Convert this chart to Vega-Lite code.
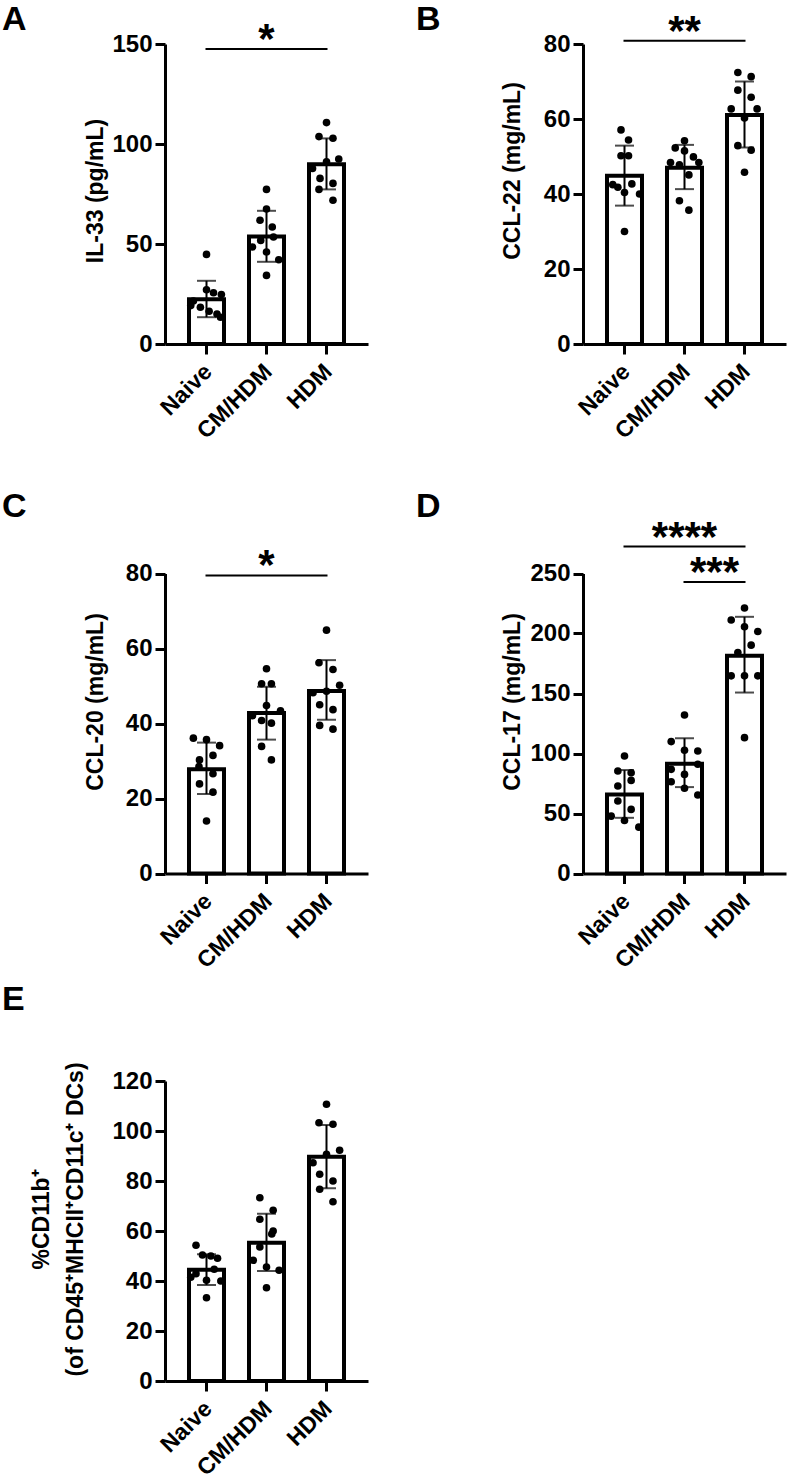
{
  "$schema": "https://vega.github.io/schema/vega-lite/v6.json",
  "padding": {"left": 2, "top": 3, "right": 2, "bottom": 5},
  "bounds": "flush",
  "columns": 2,
  "spacing": {"row": 207, "column": 215},
  "config": {
    "font": "Liberation Sans",
    "view": {"stroke": null},
    "axis": {
      "domainColor": "black", "domainWidth": 3,
      "tickColor": "black", "tickWidth": 3, "tickSize": 10,
      "labelColor": "black", "labelFont": "Liberation Sans", "labelFontSize": 24, "labelFontWeight": "bold", "labelPadding": 3,
      "titleColor": "black", "titleFont": "Liberation Sans", "titleFontSize": 23, "titleFontWeight": "bold",
      "grid": false
    },
    "axisX": {"labelAngle": -45, "labelPadding": 6, "labelOffset": -6, "labelFontSize": 23},
    "axisY": {"labelFlush": false, "titleBaseline": "middle"},
    "title": {"font": "Liberation Sans", "fontSize": 34, "fontWeight": "bold", "color": "black", "anchor": "start", "frame": "group"}
  },
  "datasets": {
    "summary": [
      {"panel": "A", "group": "Naive", "mean": 22.4, "lo": 13.4, "hi": 31.6},
      {"panel": "A", "group": "CM/HDM", "mean": 53.7, "lo": 41.1, "hi": 66.6},
      {"panel": "A", "group": "HDM", "mean": 89.9, "lo": 77.3, "hi": 102.8},
      {"panel": "B", "group": "Naive", "mean": 44.9, "lo": 36.9, "hi": 52.9},
      {"panel": "B", "group": "CM/HDM", "mean": 47.0, "lo": 41.3, "hi": 53.1},
      {"panel": "B", "group": "HDM", "mean": 61.1, "lo": 52.4, "hi": 70.0},
      {"panel": "C", "group": "Naive", "mean": 27.8, "lo": 21.2, "hi": 34.9},
      {"panel": "C", "group": "CM/HDM", "mean": 42.8, "lo": 35.7, "hi": 49.8},
      {"panel": "C", "group": "HDM", "mean": 48.7, "lo": 41.0, "hi": 56.9},
      {"panel": "D", "group": "Naive", "mean": 65.8, "lo": 46.4, "hi": 86.2},
      {"panel": "D", "group": "CM/HDM", "mean": 91.5, "lo": 72.0, "hi": 112.7},
      {"panel": "D", "group": "HDM", "mean": 181.5, "lo": 150.8, "hi": 213.9},
      {"panel": "E", "group": "Naive", "mean": 44.5, "lo": 38.4, "hi": 50.7},
      {"panel": "E", "group": "CM/HDM", "mean": 55.3, "lo": 44.0, "hi": 66.9},
      {"panel": "E", "group": "HDM", "mean": 89.7, "lo": 77.1, "hi": 102.4}
    ],
    "points": [
      {"panel": "A", "group": "Naive", "value": 44.8, "jitter": 0},
      {"panel": "A", "group": "Naive", "value": 27.1, "jitter": 0},
      {"panel": "A", "group": "Naive", "value": 25.6, "jitter": 0.4},
      {"panel": "A", "group": "Naive", "value": 24.7, "jitter": 0.85},
      {"panel": "A", "group": "Naive", "value": 21.5, "jitter": -0.75},
      {"panel": "A", "group": "Naive", "value": 19.2, "jitter": -0.9},
      {"panel": "A", "group": "Naive", "value": 18.4, "jitter": -0.35},
      {"panel": "A", "group": "Naive", "value": 16.4, "jitter": 0.15},
      {"panel": "A", "group": "Naive", "value": 15.0, "jitter": 0.6},
      {"panel": "A", "group": "Naive", "value": 13.4, "jitter": 0.8},
      {"panel": "A", "group": "CM/HDM", "value": 77.3, "jitter": 0},
      {"panel": "A", "group": "CM/HDM", "value": 67.5, "jitter": 0},
      {"panel": "A", "group": "CM/HDM", "value": 61.9, "jitter": -0.37},
      {"panel": "A", "group": "CM/HDM", "value": 58.5, "jitter": 0.33},
      {"panel": "A", "group": "CM/HDM", "value": 53.5, "jitter": 0.4},
      {"panel": "A", "group": "CM/HDM", "value": 51.8, "jitter": -0.33},
      {"panel": "A", "group": "CM/HDM", "value": 48.5, "jitter": -0.8},
      {"panel": "A", "group": "CM/HDM", "value": 46.0, "jitter": 0},
      {"panel": "A", "group": "CM/HDM", "value": 42.1, "jitter": 0.7},
      {"panel": "A", "group": "CM/HDM", "value": 34.3, "jitter": 0},
      {"panel": "A", "group": "HDM", "value": 110.7, "jitter": 0},
      {"panel": "A", "group": "HDM", "value": 103.7, "jitter": -0.43},
      {"panel": "A", "group": "HDM", "value": 102.9, "jitter": 0.37},
      {"panel": "A", "group": "HDM", "value": 92.5, "jitter": 0.7},
      {"panel": "A", "group": "HDM", "value": 91.1, "jitter": 0},
      {"panel": "A", "group": "HDM", "value": 87.8, "jitter": -0.8},
      {"panel": "A", "group": "HDM", "value": 82.8, "jitter": -0.37},
      {"panel": "A", "group": "HDM", "value": 80.3, "jitter": 0.37},
      {"panel": "A", "group": "HDM", "value": 77.3, "jitter": -0.43},
      {"panel": "A", "group": "HDM", "value": 71.9, "jitter": 0.37},
      {"panel": "B", "group": "Naive", "value": 57.1, "jitter": -0.2},
      {"panel": "B", "group": "Naive", "value": 54.4, "jitter": 0.23},
      {"panel": "B", "group": "Naive", "value": 50.2, "jitter": -0.2},
      {"panel": "B", "group": "Naive", "value": 50.2, "jitter": 0.23},
      {"panel": "B", "group": "Naive", "value": 42.7, "jitter": 0.42},
      {"panel": "B", "group": "Naive", "value": 42.5, "jitter": -0.67},
      {"panel": "B", "group": "Naive", "value": 41.8, "jitter": -0.38},
      {"panel": "B", "group": "Naive", "value": 40.4, "jitter": 0},
      {"panel": "B", "group": "Naive", "value": 40.0, "jitter": 0.86},
      {"panel": "B", "group": "Naive", "value": 30.0, "jitter": 0},
      {"panel": "B", "group": "CM/HDM", "value": 54.2, "jitter": 0},
      {"panel": "B", "group": "CM/HDM", "value": 52.3, "jitter": -0.53},
      {"panel": "B", "group": "CM/HDM", "value": 51.5, "jitter": 0},
      {"panel": "B", "group": "CM/HDM", "value": 49.9, "jitter": 0.51},
      {"panel": "B", "group": "CM/HDM", "value": 48.4, "jitter": 0.82},
      {"panel": "B", "group": "CM/HDM", "value": 48.4, "jitter": -0.8},
      {"panel": "B", "group": "CM/HDM", "value": 47.8, "jitter": -0.29},
      {"panel": "B", "group": "CM/HDM", "value": 45.1, "jitter": 0.25},
      {"panel": "B", "group": "CM/HDM", "value": 38.2, "jitter": -0.29},
      {"panel": "B", "group": "CM/HDM", "value": 35.7, "jitter": 0.25},
      {"panel": "B", "group": "HDM", "value": 72.4, "jitter": -0.38},
      {"panel": "B", "group": "HDM", "value": 71.3, "jitter": 0.38},
      {"panel": "B", "group": "HDM", "value": 67.7, "jitter": -0.38},
      {"panel": "B", "group": "HDM", "value": 65.8, "jitter": 0.38},
      {"panel": "B", "group": "HDM", "value": 62.7, "jitter": -0.76},
      {"panel": "B", "group": "HDM", "value": 62.7, "jitter": 0.72},
      {"panel": "B", "group": "HDM", "value": 60.3, "jitter": 0},
      {"panel": "B", "group": "HDM", "value": 52.9, "jitter": -0.38},
      {"panel": "B", "group": "HDM", "value": 51.7, "jitter": 0.38},
      {"panel": "B", "group": "HDM", "value": 45.8, "jitter": 0},
      {"panel": "C", "group": "Naive", "value": 36.1, "jitter": -0.75},
      {"panel": "C", "group": "Naive", "value": 35.7, "jitter": 0},
      {"panel": "C", "group": "Naive", "value": 34.1, "jitter": 0.75},
      {"panel": "C", "group": "Naive", "value": 31.5, "jitter": 0.37},
      {"panel": "C", "group": "Naive", "value": 30.3, "jitter": -0.4},
      {"panel": "C", "group": "Naive", "value": 28.5, "jitter": -0.43},
      {"panel": "C", "group": "Naive", "value": 26.6, "jitter": 0.37},
      {"panel": "C", "group": "Naive", "value": 23.9, "jitter": -0.4},
      {"panel": "C", "group": "Naive", "value": 21.7, "jitter": 0.37},
      {"panel": "C", "group": "Naive", "value": 14.0, "jitter": 0},
      {"panel": "C", "group": "CM/HDM", "value": 54.6, "jitter": 0},
      {"panel": "C", "group": "CM/HDM", "value": 50.6, "jitter": -0.28},
      {"panel": "C", "group": "CM/HDM", "value": 50.6, "jitter": 0.28},
      {"panel": "C", "group": "CM/HDM", "value": 44.8, "jitter": 0},
      {"panel": "C", "group": "CM/HDM", "value": 43.4, "jitter": 0.8},
      {"panel": "C", "group": "CM/HDM", "value": 42.1, "jitter": -0.8},
      {"panel": "C", "group": "CM/HDM", "value": 40.8, "jitter": -0.28},
      {"panel": "C", "group": "CM/HDM", "value": 40.1, "jitter": 0.28},
      {"panel": "C", "group": "CM/HDM", "value": 33.9, "jitter": -0.28},
      {"panel": "C", "group": "CM/HDM", "value": 30.3, "jitter": 0.28},
      {"panel": "C", "group": "HDM", "value": 64.9, "jitter": 0},
      {"panel": "C", "group": "HDM", "value": 56.2, "jitter": -0.43},
      {"panel": "C", "group": "HDM", "value": 54.4, "jitter": 0.37},
      {"panel": "C", "group": "HDM", "value": 50.2, "jitter": 0.75},
      {"panel": "C", "group": "HDM", "value": 48.6, "jitter": 0},
      {"panel": "C", "group": "HDM", "value": 48.2, "jitter": -0.77},
      {"panel": "C", "group": "HDM", "value": 45.0, "jitter": -0.39},
      {"panel": "C", "group": "HDM", "value": 43.7, "jitter": 0.37},
      {"panel": "C", "group": "HDM", "value": 39.5, "jitter": -0.39},
      {"panel": "C", "group": "HDM", "value": 38.5, "jitter": 0.37},
      {"panel": "D", "group": "Naive", "value": 97.9, "jitter": 0},
      {"panel": "D", "group": "Naive", "value": 85.4, "jitter": -0.38},
      {"panel": "D", "group": "Naive", "value": 84.0, "jitter": 0.38},
      {"panel": "D", "group": "Naive", "value": 77.6, "jitter": 0.38},
      {"panel": "D", "group": "Naive", "value": 72.9, "jitter": -0.38},
      {"panel": "D", "group": "Naive", "value": 60.4, "jitter": -0.38},
      {"panel": "D", "group": "Naive", "value": 53.4, "jitter": 0.38},
      {"panel": "D", "group": "Naive", "value": 47.8, "jitter": -0.76},
      {"panel": "D", "group": "Naive", "value": 44.2, "jitter": 0},
      {"panel": "D", "group": "Naive", "value": 38.6, "jitter": 0.82},
      {"panel": "D", "group": "CM/HDM", "value": 132.1, "jitter": 0},
      {"panel": "D", "group": "CM/HDM", "value": 109.9, "jitter": -0.76},
      {"panel": "D", "group": "CM/HDM", "value": 102.7, "jitter": 0},
      {"panel": "D", "group": "CM/HDM", "value": 102.1, "jitter": 0.76},
      {"panel": "D", "group": "CM/HDM", "value": 91.0, "jitter": 0.76},
      {"panel": "D", "group": "CM/HDM", "value": 86.8, "jitter": -0.76},
      {"panel": "D", "group": "CM/HDM", "value": 82.6, "jitter": 0},
      {"panel": "D", "group": "CM/HDM", "value": 76.5, "jitter": -0.76},
      {"panel": "D", "group": "CM/HDM", "value": 71.0, "jitter": 0},
      {"panel": "D", "group": "CM/HDM", "value": 65.4, "jitter": 0.76},
      {"panel": "D", "group": "HDM", "value": 221.2, "jitter": 0},
      {"panel": "D", "group": "HDM", "value": 211.2, "jitter": -0.76},
      {"panel": "D", "group": "HDM", "value": 205.6, "jitter": 0},
      {"panel": "D", "group": "HDM", "value": 201.7, "jitter": 0.76},
      {"panel": "D", "group": "HDM", "value": 190.3, "jitter": 0.38},
      {"panel": "D", "group": "HDM", "value": 184.1, "jitter": -0.38},
      {"panel": "D", "group": "HDM", "value": 164.7, "jitter": -0.76},
      {"panel": "D", "group": "HDM", "value": 164.7, "jitter": 0},
      {"panel": "D", "group": "HDM", "value": 164.7, "jitter": 0.76},
      {"panel": "D", "group": "HDM", "value": 113.2, "jitter": 0},
      {"panel": "E", "group": "Naive", "value": 54.3, "jitter": -0.6},
      {"panel": "E", "group": "Naive", "value": 50.4, "jitter": -0.23},
      {"panel": "E", "group": "Naive", "value": 50.0, "jitter": 0.25},
      {"panel": "E", "group": "Naive", "value": 49.1, "jitter": 0.63},
      {"panel": "E", "group": "Naive", "value": 44.7, "jitter": 0.44},
      {"panel": "E", "group": "Naive", "value": 42.9, "jitter": -0.6},
      {"panel": "E", "group": "Naive", "value": 41.5, "jitter": -0.9},
      {"panel": "E", "group": "Naive", "value": 40.3, "jitter": 0},
      {"panel": "E", "group": "Naive", "value": 40.0, "jitter": 0.82},
      {"panel": "E", "group": "Naive", "value": 33.3, "jitter": 0},
      {"panel": "E", "group": "CM/HDM", "value": 73.3, "jitter": -0.38},
      {"panel": "E", "group": "CM/HDM", "value": 68.3, "jitter": 0.38},
      {"panel": "E", "group": "CM/HDM", "value": 64.7, "jitter": -0.38},
      {"panel": "E", "group": "CM/HDM", "value": 60.0, "jitter": 0.38},
      {"panel": "E", "group": "CM/HDM", "value": 58.8, "jitter": 0.3},
      {"panel": "E", "group": "CM/HDM", "value": 53.6, "jitter": -0.38},
      {"panel": "E", "group": "CM/HDM", "value": 48.3, "jitter": -0.76},
      {"panel": "E", "group": "CM/HDM", "value": 45.6, "jitter": 0},
      {"panel": "E", "group": "CM/HDM", "value": 44.3, "jitter": 0.72},
      {"panel": "E", "group": "CM/HDM", "value": 37.3, "jitter": 0},
      {"panel": "E", "group": "HDM", "value": 110.7, "jitter": 0},
      {"panel": "E", "group": "HDM", "value": 103.3, "jitter": -0.43},
      {"panel": "E", "group": "HDM", "value": 102.7, "jitter": 0.37},
      {"panel": "E", "group": "HDM", "value": 92.3, "jitter": 0.75},
      {"panel": "E", "group": "HDM", "value": 90.7, "jitter": 0},
      {"panel": "E", "group": "HDM", "value": 87.3, "jitter": -0.77},
      {"panel": "E", "group": "HDM", "value": 82.7, "jitter": -0.39},
      {"panel": "E", "group": "HDM", "value": 80.0, "jitter": 0.37},
      {"panel": "E", "group": "HDM", "value": 76.7, "jitter": -0.39},
      {"panel": "E", "group": "HDM", "value": 71.7, "jitter": 0.37}
    ],
    "sig": [
      {"panel": "A", "from": "Naive", "to": "HDM", "mid": "CM/HDM", "y": 147.5, "label": "*"},
      {"panel": "B", "from": "Naive", "to": "HDM", "mid": "CM/HDM", "y": 80.9, "label": "**"},
      {"panel": "C", "from": "Naive", "to": "HDM", "mid": "CM/HDM", "y": 79.5, "label": "*"},
      {"panel": "D", "from": "Naive", "to": "HDM", "mid": "CM/HDM", "y": 272.4, "label": "****"},
      {"panel": "D", "from": "CM/HDM", "to": "HDM", "mid": "HDM", "y": 243, "label": "***"}
    ]
  },
  "concat": [
    {
      "title": {"text": "A", "dx": -163, "offset": -18},
      "width": 203, "height": 300,
      "layer": [
        {"data": {"name": "summary"}, "transform": [{"filter": {"field": "panel", "equal": "A"}}],
         "mark": {"type": "bar", "fill": "white", "stroke": "black", "strokeWidth": 4, "strokeJoin": "miter", "width": 35},
         "encoding": {
           "x": {"field": "group", "type": "nominal", "title": null, "scale": {"domain": ["Naive", "CM/HDM", "HDM"], "paddingInner": 0.4167, "paddingOuter": 0.4}},
           "y": {"field": "mean", "type": "quantitative", "scale": {"domain": [0, 150], "nice": false}, "axis": {"values": [0, 50, 100, 150], "title": "IL-33 (pg/mL)", "titleX": -70, "titleY": 146.5}}}},
        {"data": {"name": "points"}, "transform": [{"filter": {"field": "panel", "equal": "A"}}],
         "mark": {"type": "circle", "size": 58, "color": "black", "opacity": 1},
         "encoding": {
           "x": {"field": "group", "type": "nominal", "title": null, "scale": {"domain": ["Naive", "CM/HDM", "HDM"], "paddingInner": 0.4167, "paddingOuter": 0.4}},
           "xOffset": {"field": "jitter", "type": "quantitative", "scale": {"domain": [-1, 1]}},
           "y": {"field": "value", "type": "quantitative", "scale": {"domain": [0, 150], "nice": false}, "axis": {"values": [0, 50, 100, 150], "title": "IL-33 (pg/mL)", "titleX": -70, "titleY": 146.5}}}},
        {"data": {"name": "summary"}, "transform": [{"filter": {"field": "panel", "equal": "A"}}],
         "mark": {"type": "rule", "color": "black", "strokeWidth": 2},
         "encoding": {
           "x": {"field": "group", "type": "nominal", "title": null, "scale": {"domain": ["Naive", "CM/HDM", "HDM"], "paddingInner": 0.4167, "paddingOuter": 0.4}},
           "y": {"field": "lo", "type": "quantitative", "scale": {"domain": [0, 150], "nice": false}, "axis": {"values": [0, 50, 100, 150], "title": "IL-33 (pg/mL)", "titleX": -70, "titleY": 146.5}},
           "y2": {"field": "hi"}}},
        {"data": {"name": "summary"}, "transform": [{"filter": {"field": "panel", "equal": "A"}}],
         "mark": {"type": "tick", "color": "black", "size": 19, "thickness": 2, "orient": "horizontal"},
         "encoding": {
           "x": {"field": "group", "type": "nominal", "title": null, "scale": {"domain": ["Naive", "CM/HDM", "HDM"], "paddingInner": 0.4167, "paddingOuter": 0.4}},
           "y": {"field": "lo", "type": "quantitative", "scale": {"domain": [0, 150], "nice": false}, "axis": {"values": [0, 50, 100, 150], "title": "IL-33 (pg/mL)", "titleX": -70, "titleY": 146.5}}}},
        {"data": {"name": "summary"}, "transform": [{"filter": {"field": "panel", "equal": "A"}}],
         "mark": {"type": "tick", "color": "black", "size": 19, "thickness": 2, "orient": "horizontal"},
         "encoding": {
           "x": {"field": "group", "type": "nominal", "title": null, "scale": {"domain": ["Naive", "CM/HDM", "HDM"], "paddingInner": 0.4167, "paddingOuter": 0.4}},
           "y": {"field": "hi", "type": "quantitative", "scale": {"domain": [0, 150], "nice": false}, "axis": {"values": [0, 50, 100, 150], "title": "IL-33 (pg/mL)", "titleX": -70, "titleY": 146.5}}}},
        {"data": {"name": "sig"}, "transform": [{"filter": {"field": "panel", "equal": "A"}}],
         "mark": {"type": "rule", "color": "black", "strokeWidth": 2, "strokeCap": "square"},
         "encoding": {
           "x": {"field": "from", "type": "nominal", "title": null, "scale": {"domain": ["Naive", "CM/HDM", "HDM"], "paddingInner": 0.4167, "paddingOuter": 0.4}},
           "x2": {"field": "to"},
           "y": {"field": "y", "type": "quantitative", "scale": {"domain": [0, 150], "nice": false}, "axis": {"values": [0, 50, 100, 150], "title": "IL-33 (pg/mL)", "titleX": -70, "titleY": 146.5}}}},
        {"data": {"name": "sig"}, "transform": [{"filter": {"field": "panel", "equal": "A"}}],
         "mark": {"type": "text", "color": "black", "fontSize": 42, "fontWeight": "bold", "font": "Liberation Sans", "baseline": "alphabetic", "dy": 4},
         "encoding": {
           "x": {"field": "mid", "type": "nominal", "title": null, "scale": {"domain": ["Naive", "CM/HDM", "HDM"], "paddingInner": 0.4167, "paddingOuter": 0.4}},
           "y": {"field": "y", "type": "quantitative", "scale": {"domain": [0, 150], "nice": false}, "axis": {"values": [0, 50, 100, 150], "title": "IL-33 (pg/mL)", "titleX": -70, "titleY": 146.5}},
           "text": {"field": "label"}}}
      ]
    },
    {
      "title": {"text": "B", "dx": -167, "offset": -26.5},
      "width": 203, "height": 300,
      "layer": [
        {"data": {"name": "summary"}, "transform": [{"filter": {"field": "panel", "equal": "B"}}],
         "mark": {"type": "bar", "fill": "white", "stroke": "black", "strokeWidth": 4, "strokeJoin": "miter", "width": 35},
         "encoding": {
           "x": {"field": "group", "type": "nominal", "title": null, "scale": {"domain": ["Naive", "CM/HDM", "HDM"], "paddingInner": 0.4167, "paddingOuter": 0.4}},
           "y": {"field": "mean", "type": "quantitative", "scale": {"domain": [0, 80], "nice": false}, "axis": {"values": [0, 20, 40, 60, 80], "title": "CCL-22 (mg/mL)", "titleX": -71, "titleY": 126.5}}}},
        {"data": {"name": "points"}, "transform": [{"filter": {"field": "panel", "equal": "B"}}],
         "mark": {"type": "circle", "size": 58, "color": "black", "opacity": 1},
         "encoding": {
           "x": {"field": "group", "type": "nominal", "title": null, "scale": {"domain": ["Naive", "CM/HDM", "HDM"], "paddingInner": 0.4167, "paddingOuter": 0.4}},
           "xOffset": {"field": "jitter", "type": "quantitative", "scale": {"domain": [-1, 1]}},
           "y": {"field": "value", "type": "quantitative", "scale": {"domain": [0, 80], "nice": false}, "axis": {"values": [0, 20, 40, 60, 80], "title": "CCL-22 (mg/mL)", "titleX": -71, "titleY": 126.5}}}},
        {"data": {"name": "summary"}, "transform": [{"filter": {"field": "panel", "equal": "B"}}],
         "mark": {"type": "rule", "color": "black", "strokeWidth": 2},
         "encoding": {
           "x": {"field": "group", "type": "nominal", "title": null, "scale": {"domain": ["Naive", "CM/HDM", "HDM"], "paddingInner": 0.4167, "paddingOuter": 0.4}},
           "y": {"field": "lo", "type": "quantitative", "scale": {"domain": [0, 80], "nice": false}, "axis": {"values": [0, 20, 40, 60, 80], "title": "CCL-22 (mg/mL)", "titleX": -71, "titleY": 126.5}},
           "y2": {"field": "hi"}}},
        {"data": {"name": "summary"}, "transform": [{"filter": {"field": "panel", "equal": "B"}}],
         "mark": {"type": "tick", "color": "black", "size": 19, "thickness": 2, "orient": "horizontal"},
         "encoding": {
           "x": {"field": "group", "type": "nominal", "title": null, "scale": {"domain": ["Naive", "CM/HDM", "HDM"], "paddingInner": 0.4167, "paddingOuter": 0.4}},
           "y": {"field": "lo", "type": "quantitative", "scale": {"domain": [0, 80], "nice": false}, "axis": {"values": [0, 20, 40, 60, 80], "title": "CCL-22 (mg/mL)", "titleX": -71, "titleY": 126.5}}}},
        {"data": {"name": "summary"}, "transform": [{"filter": {"field": "panel", "equal": "B"}}],
         "mark": {"type": "tick", "color": "black", "size": 19, "thickness": 2, "orient": "horizontal"},
         "encoding": {
           "x": {"field": "group", "type": "nominal", "title": null, "scale": {"domain": ["Naive", "CM/HDM", "HDM"], "paddingInner": 0.4167, "paddingOuter": 0.4}},
           "y": {"field": "hi", "type": "quantitative", "scale": {"domain": [0, 80], "nice": false}, "axis": {"values": [0, 20, 40, 60, 80], "title": "CCL-22 (mg/mL)", "titleX": -71, "titleY": 126.5}}}},
        {"data": {"name": "sig"}, "transform": [{"filter": {"field": "panel", "equal": "B"}}],
         "mark": {"type": "rule", "color": "black", "strokeWidth": 2, "strokeCap": "square"},
         "encoding": {
           "x": {"field": "from", "type": "nominal", "title": null, "scale": {"domain": ["Naive", "CM/HDM", "HDM"], "paddingInner": 0.4167, "paddingOuter": 0.4}},
           "x2": {"field": "to"},
           "y": {"field": "y", "type": "quantitative", "scale": {"domain": [0, 80], "nice": false}, "axis": {"values": [0, 20, 40, 60, 80], "title": "CCL-22 (mg/mL)", "titleX": -71, "titleY": 126.5}}}},
        {"data": {"name": "sig"}, "transform": [{"filter": {"field": "panel", "equal": "B"}}],
         "mark": {"type": "text", "color": "black", "fontSize": 42, "fontWeight": "bold", "font": "Liberation Sans", "baseline": "alphabetic", "dy": 4},
         "encoding": {
           "x": {"field": "mid", "type": "nominal", "title": null, "scale": {"domain": ["Naive", "CM/HDM", "HDM"], "paddingInner": 0.4167, "paddingOuter": 0.4}},
           "y": {"field": "y", "type": "quantitative", "scale": {"domain": [0, 80], "nice": false}, "axis": {"values": [0, 20, 40, 60, 80], "title": "CCL-22 (mg/mL)", "titleX": -71, "titleY": 126.5}},
           "text": {"field": "label"}}}
      ]
    },
    {
      "title": {"text": "C", "dx": -163, "offset": 21},
      "width": 203, "height": 322.5,
      "layer": [
        {"data": {"name": "summary"}, "transform": [{"filter": {"field": "panel", "equal": "C"}}],
         "mark": {"type": "bar", "fill": "white", "stroke": "black", "strokeWidth": 4, "strokeJoin": "miter", "width": 35},
         "encoding": {
           "x": {"field": "group", "type": "nominal", "title": null, "scale": {"domain": ["Naive", "CM/HDM", "HDM"], "paddingInner": 0.4167, "paddingOuter": 0.4}},
           "y": {"field": "mean", "type": "quantitative", "scale": {"domain": [0, 80], "nice": false, "range": [322.5, 22.5]}, "axis": {"values": [0, 20, 40, 60, 80], "title": "CCL-20 (mg/mL)", "titleX": -70, "titleY": 150.5}}}},
        {"data": {"name": "points"}, "transform": [{"filter": {"field": "panel", "equal": "C"}}],
         "mark": {"type": "circle", "size": 58, "color": "black", "opacity": 1},
         "encoding": {
           "x": {"field": "group", "type": "nominal", "title": null, "scale": {"domain": ["Naive", "CM/HDM", "HDM"], "paddingInner": 0.4167, "paddingOuter": 0.4}},
           "xOffset": {"field": "jitter", "type": "quantitative", "scale": {"domain": [-1, 1]}},
           "y": {"field": "value", "type": "quantitative", "scale": {"domain": [0, 80], "nice": false, "range": [322.5, 22.5]}, "axis": {"values": [0, 20, 40, 60, 80], "title": "CCL-20 (mg/mL)", "titleX": -70, "titleY": 150.5}}}},
        {"data": {"name": "summary"}, "transform": [{"filter": {"field": "panel", "equal": "C"}}],
         "mark": {"type": "rule", "color": "black", "strokeWidth": 2},
         "encoding": {
           "x": {"field": "group", "type": "nominal", "title": null, "scale": {"domain": ["Naive", "CM/HDM", "HDM"], "paddingInner": 0.4167, "paddingOuter": 0.4}},
           "y": {"field": "lo", "type": "quantitative", "scale": {"domain": [0, 80], "nice": false, "range": [322.5, 22.5]}, "axis": {"values": [0, 20, 40, 60, 80], "title": "CCL-20 (mg/mL)", "titleX": -70, "titleY": 150.5}},
           "y2": {"field": "hi"}}},
        {"data": {"name": "summary"}, "transform": [{"filter": {"field": "panel", "equal": "C"}}],
         "mark": {"type": "tick", "color": "black", "size": 19, "thickness": 2, "orient": "horizontal"},
         "encoding": {
           "x": {"field": "group", "type": "nominal", "title": null, "scale": {"domain": ["Naive", "CM/HDM", "HDM"], "paddingInner": 0.4167, "paddingOuter": 0.4}},
           "y": {"field": "lo", "type": "quantitative", "scale": {"domain": [0, 80], "nice": false, "range": [322.5, 22.5]}, "axis": {"values": [0, 20, 40, 60, 80], "title": "CCL-20 (mg/mL)", "titleX": -70, "titleY": 150.5}}}},
        {"data": {"name": "summary"}, "transform": [{"filter": {"field": "panel", "equal": "C"}}],
         "mark": {"type": "tick", "color": "black", "size": 19, "thickness": 2, "orient": "horizontal"},
         "encoding": {
           "x": {"field": "group", "type": "nominal", "title": null, "scale": {"domain": ["Naive", "CM/HDM", "HDM"], "paddingInner": 0.4167, "paddingOuter": 0.4}},
           "y": {"field": "hi", "type": "quantitative", "scale": {"domain": [0, 80], "nice": false, "range": [322.5, 22.5]}, "axis": {"values": [0, 20, 40, 60, 80], "title": "CCL-20 (mg/mL)", "titleX": -70, "titleY": 150.5}}}},
        {"data": {"name": "sig"}, "transform": [{"filter": {"field": "panel", "equal": "C"}}],
         "mark": {"type": "rule", "color": "black", "strokeWidth": 2, "strokeCap": "square"},
         "encoding": {
           "x": {"field": "from", "type": "nominal", "title": null, "scale": {"domain": ["Naive", "CM/HDM", "HDM"], "paddingInner": 0.4167, "paddingOuter": 0.4}},
           "x2": {"field": "to"},
           "y": {"field": "y", "type": "quantitative", "scale": {"domain": [0, 80], "nice": false, "range": [322.5, 22.5]}, "axis": {"values": [0, 20, 40, 60, 80], "title": "CCL-20 (mg/mL)", "titleX": -70, "titleY": 150.5}}}},
        {"data": {"name": "sig"}, "transform": [{"filter": {"field": "panel", "equal": "C"}}],
         "mark": {"type": "text", "color": "black", "fontSize": 42, "fontWeight": "bold", "font": "Liberation Sans", "baseline": "alphabetic", "dy": 4},
         "encoding": {
           "x": {"field": "mid", "type": "nominal", "title": null, "scale": {"domain": ["Naive", "CM/HDM", "HDM"], "paddingInner": 0.4167, "paddingOuter": 0.4}},
           "y": {"field": "y", "type": "quantitative", "scale": {"domain": [0, 80], "nice": false, "range": [322.5, 22.5]}, "axis": {"values": [0, 20, 40, 60, 80], "title": "CCL-20 (mg/mL)", "titleX": -70, "titleY": 150.5}},
           "text": {"field": "label"}}}
      ]
    },
    {
      "title": {"text": "D", "dx": -167, "offset": -7.5},
      "width": 203, "height": 322.5,
      "layer": [
        {"data": {"name": "summary"}, "transform": [{"filter": {"field": "panel", "equal": "D"}}],
         "mark": {"type": "bar", "fill": "white", "stroke": "black", "strokeWidth": 4, "strokeJoin": "miter", "width": 35},
         "encoding": {
           "x": {"field": "group", "type": "nominal", "title": null, "scale": {"domain": ["Naive", "CM/HDM", "HDM"], "paddingInner": 0.4167, "paddingOuter": 0.4}},
           "y": {"field": "mean", "type": "quantitative", "scale": {"domain": [0, 250], "nice": false, "range": [322.5, 22.5]}, "axis": {"values": [0, 50, 100, 150, 200, 250], "title": "CCL-17 (mg/mL)", "titleX": -71, "titleY": 150.5}}}},
        {"data": {"name": "points"}, "transform": [{"filter": {"field": "panel", "equal": "D"}}],
         "mark": {"type": "circle", "size": 58, "color": "black", "opacity": 1},
         "encoding": {
           "x": {"field": "group", "type": "nominal", "title": null, "scale": {"domain": ["Naive", "CM/HDM", "HDM"], "paddingInner": 0.4167, "paddingOuter": 0.4}},
           "xOffset": {"field": "jitter", "type": "quantitative", "scale": {"domain": [-1, 1]}},
           "y": {"field": "value", "type": "quantitative", "scale": {"domain": [0, 250], "nice": false, "range": [322.5, 22.5]}, "axis": {"values": [0, 50, 100, 150, 200, 250], "title": "CCL-17 (mg/mL)", "titleX": -71, "titleY": 150.5}}}},
        {"data": {"name": "summary"}, "transform": [{"filter": {"field": "panel", "equal": "D"}}],
         "mark": {"type": "rule", "color": "black", "strokeWidth": 2},
         "encoding": {
           "x": {"field": "group", "type": "nominal", "title": null, "scale": {"domain": ["Naive", "CM/HDM", "HDM"], "paddingInner": 0.4167, "paddingOuter": 0.4}},
           "y": {"field": "lo", "type": "quantitative", "scale": {"domain": [0, 250], "nice": false, "range": [322.5, 22.5]}, "axis": {"values": [0, 50, 100, 150, 200, 250], "title": "CCL-17 (mg/mL)", "titleX": -71, "titleY": 150.5}},
           "y2": {"field": "hi"}}},
        {"data": {"name": "summary"}, "transform": [{"filter": {"field": "panel", "equal": "D"}}],
         "mark": {"type": "tick", "color": "black", "size": 19, "thickness": 2, "orient": "horizontal"},
         "encoding": {
           "x": {"field": "group", "type": "nominal", "title": null, "scale": {"domain": ["Naive", "CM/HDM", "HDM"], "paddingInner": 0.4167, "paddingOuter": 0.4}},
           "y": {"field": "lo", "type": "quantitative", "scale": {"domain": [0, 250], "nice": false, "range": [322.5, 22.5]}, "axis": {"values": [0, 50, 100, 150, 200, 250], "title": "CCL-17 (mg/mL)", "titleX": -71, "titleY": 150.5}}}},
        {"data": {"name": "summary"}, "transform": [{"filter": {"field": "panel", "equal": "D"}}],
         "mark": {"type": "tick", "color": "black", "size": 19, "thickness": 2, "orient": "horizontal"},
         "encoding": {
           "x": {"field": "group", "type": "nominal", "title": null, "scale": {"domain": ["Naive", "CM/HDM", "HDM"], "paddingInner": 0.4167, "paddingOuter": 0.4}},
           "y": {"field": "hi", "type": "quantitative", "scale": {"domain": [0, 250], "nice": false, "range": [322.5, 22.5]}, "axis": {"values": [0, 50, 100, 150, 200, 250], "title": "CCL-17 (mg/mL)", "titleX": -71, "titleY": 150.5}}}},
        {"data": {"name": "sig"}, "transform": [{"filter": {"field": "panel", "equal": "D"}}],
         "mark": {"type": "rule", "color": "black", "strokeWidth": 2, "strokeCap": "square"},
         "encoding": {
           "x": {"field": "from", "type": "nominal", "title": null, "scale": {"domain": ["Naive", "CM/HDM", "HDM"], "paddingInner": 0.4167, "paddingOuter": 0.4}},
           "x2": {"field": "to"},
           "y": {"field": "y", "type": "quantitative", "scale": {"domain": [0, 250], "nice": false, "range": [322.5, 22.5]}, "axis": {"values": [0, 50, 100, 150, 200, 250], "title": "CCL-17 (mg/mL)", "titleX": -71, "titleY": 150.5}}}},
        {"data": {"name": "sig"}, "transform": [{"filter": {"field": "label", "equal": "****"}}],
         "mark": {"type": "text", "color": "black", "fontSize": 42, "fontWeight": "bold", "font": "Liberation Sans", "baseline": "alphabetic", "dy": 4},
         "encoding": {
           "x": {"field": "mid", "type": "nominal", "title": null, "scale": {"domain": ["Naive", "CM/HDM", "HDM"], "paddingInner": 0.4167, "paddingOuter": 0.4}},
           "y": {"field": "y", "type": "quantitative", "scale": {"domain": [0, 250], "nice": false, "range": [322.5, 22.5]}, "axis": {"values": [0, 50, 100, 150, 200, 250], "title": "CCL-17 (mg/mL)", "titleX": -71, "titleY": 150.5}},
           "text": {"field": "label"}}},
        {"data": {"name": "sig"}, "transform": [{"filter": {"field": "label", "equal": "***"}}],
         "mark": {"type": "text", "color": "black", "fontSize": 42, "fontWeight": "bold", "font": "Liberation Sans", "baseline": "alphabetic", "dy": 4, "dx": -30},
         "encoding": {
           "x": {"field": "mid", "type": "nominal", "title": null, "scale": {"domain": ["Naive", "CM/HDM", "HDM"], "paddingInner": 0.4167, "paddingOuter": 0.4}},
           "y": {"field": "y", "type": "quantitative", "scale": {"domain": [0, 250], "nice": false, "range": [322.5, 22.5]}, "axis": {"values": [0, 50, 100, 150, 200, 250], "title": "CCL-17 (mg/mL)", "titleX": -71, "titleY": 150.5}},
           "text": {"field": "label"}}}
      ]
    },
    {
      "title": {"text": "E", "dx": -163, "offset": 45},
      "width": 203, "height": 300,
      "layer": [
        {"data": {"name": "summary"}, "transform": [{"filter": {"field": "panel", "equal": "E"}}],
         "mark": {"type": "bar", "fill": "white", "stroke": "black", "strokeWidth": 4, "strokeJoin": "miter", "width": 35},
         "encoding": {
           "x": {"field": "group", "type": "nominal", "title": null, "scale": {"domain": ["Naive", "CM/HDM", "HDM"], "paddingInner": 0.4167, "paddingOuter": 0.4}},
           "y": {"field": "mean", "type": "quantitative", "scale": {"domain": [0, 120], "nice": false}, "axis": {"values": [0, 20, 40, 60, 80, 100, 120], "title": ["%CD11b⁺", "(of CD45⁺MHCII⁺CD11c⁺ DCs)"], "titleLineHeight": 34, "titleX": -124, "titleY": 138}}}},
        {"data": {"name": "points"}, "transform": [{"filter": {"field": "panel", "equal": "E"}}],
         "mark": {"type": "circle", "size": 58, "color": "black", "opacity": 1},
         "encoding": {
           "x": {"field": "group", "type": "nominal", "title": null, "scale": {"domain": ["Naive", "CM/HDM", "HDM"], "paddingInner": 0.4167, "paddingOuter": 0.4}},
           "xOffset": {"field": "jitter", "type": "quantitative", "scale": {"domain": [-1, 1]}},
           "y": {"field": "value", "type": "quantitative", "scale": {"domain": [0, 120], "nice": false}, "axis": {"values": [0, 20, 40, 60, 80, 100, 120], "title": ["%CD11b⁺", "(of CD45⁺MHCII⁺CD11c⁺ DCs)"], "titleLineHeight": 34, "titleX": -124, "titleY": 138}}}},
        {"data": {"name": "summary"}, "transform": [{"filter": {"field": "panel", "equal": "E"}}],
         "mark": {"type": "rule", "color": "black", "strokeWidth": 2},
         "encoding": {
           "x": {"field": "group", "type": "nominal", "title": null, "scale": {"domain": ["Naive", "CM/HDM", "HDM"], "paddingInner": 0.4167, "paddingOuter": 0.4}},
           "y": {"field": "lo", "type": "quantitative", "scale": {"domain": [0, 120], "nice": false}, "axis": {"values": [0, 20, 40, 60, 80, 100, 120], "title": ["%CD11b⁺", "(of CD45⁺MHCII⁺CD11c⁺ DCs)"], "titleLineHeight": 34, "titleX": -124, "titleY": 138}},
           "y2": {"field": "hi"}}},
        {"data": {"name": "summary"}, "transform": [{"filter": {"field": "panel", "equal": "E"}}],
         "mark": {"type": "tick", "color": "black", "size": 19, "thickness": 2, "orient": "horizontal"},
         "encoding": {
           "x": {"field": "group", "type": "nominal", "title": null, "scale": {"domain": ["Naive", "CM/HDM", "HDM"], "paddingInner": 0.4167, "paddingOuter": 0.4}},
           "y": {"field": "lo", "type": "quantitative", "scale": {"domain": [0, 120], "nice": false}, "axis": {"values": [0, 20, 40, 60, 80, 100, 120], "title": ["%CD11b⁺", "(of CD45⁺MHCII⁺CD11c⁺ DCs)"], "titleLineHeight": 34, "titleX": -124, "titleY": 138}}}},
        {"data": {"name": "summary"}, "transform": [{"filter": {"field": "panel", "equal": "E"}}],
         "mark": {"type": "tick", "color": "black", "size": 19, "thickness": 2, "orient": "horizontal"},
         "encoding": {
           "x": {"field": "group", "type": "nominal", "title": null, "scale": {"domain": ["Naive", "CM/HDM", "HDM"], "paddingInner": 0.4167, "paddingOuter": 0.4}},
           "y": {"field": "hi", "type": "quantitative", "scale": {"domain": [0, 120], "nice": false}, "axis": {"values": [0, 20, 40, 60, 80, 100, 120], "title": ["%CD11b⁺", "(of CD45⁺MHCII⁺CD11c⁺ DCs)"], "titleLineHeight": 34, "titleX": -124, "titleY": 138}}}}
      ]
    }
  ]
}
